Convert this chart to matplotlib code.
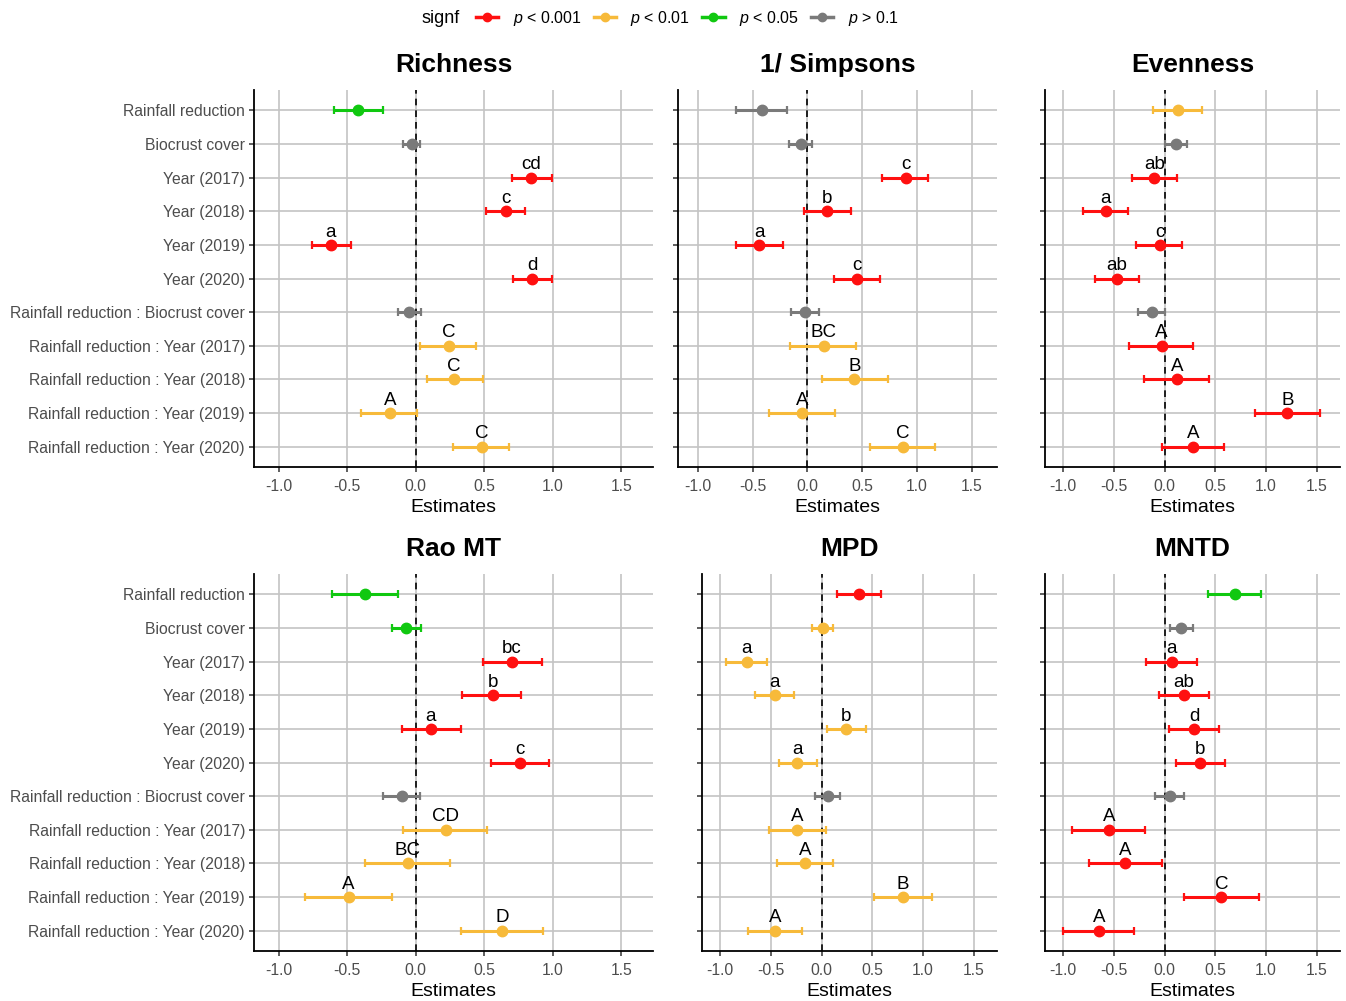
import numpy as np
import matplotlib
matplotlib.use("Agg")
import matplotlib.pyplot as plt
from matplotlib.lines import Line2D

plt.rcParams["font.family"] = ["Liberation Sans", "DejaVu Sans"]
plt.rcParams["mathtext.fontset"] = "custom"
plt.rcParams["mathtext.rm"] = "Liberation Sans"
plt.rcParams["mathtext.it"] = "Liberation Sans:italic"
plt.rcParams["axes.unicode_minus"] = False

#+++ Data
terms = ["Rainfall reduction", "Biocrust cover", "Year (2017)", "Year (2018)", "Year (2019)", "Year (2020)",
         "Rainfall reduction : Biocrust cover", "Rainfall reduction : Year (2017)",
         "Rainfall reduction : Year (2018)", "Rainfall reduction : Year (2019)",
         "Rainfall reduction : Year (2020)"]

panel_titles = ["Richness", "1/ Simpsons", "Evenness", "Rao MT", "MPD", "MNTD"]

richness_est = [-0.42, -0.03, 0.84, 0.66, -0.62, 0.85, -0.05, 0.24, 0.28, -0.19, 0.48]
richness_lo = [-0.60, -0.09, 0.70, 0.51, -0.76, 0.71, -0.13, 0.03, 0.08, -0.40, 0.27]
richness_hi = [-0.24, 0.03, 0.99, 0.80, -0.47, 0.99, 0.04, 0.44, 0.49, 0.01, 0.68]
richness_sig = ["p05", "ns", "p001", "p001", "p001", "p001", "ns", "p01", "p01", "p01", "p01"]
richness_lab = ["", "", "cd", "c", "a", "d", "", "C", "C", "A", "C"]

simpson_est = [-0.41, -0.06, 0.90, 0.18, -0.44, 0.45, -0.02, 0.15, 0.43, -0.05, 0.87]
simpson_lo = [-0.65, -0.17, 0.68, -0.03, -0.65, 0.24, -0.15, -0.16, 0.13, -0.35, 0.57]
simpson_hi = [-0.19, 0.045, 1.10, 0.40, -0.22, 0.66, 0.11, 0.44, 0.74, 0.25, 1.16]
simpson_sig = ["ns", "ns", "p001", "p001", "p001", "p001", "ns", "p01", "p01", "p01", "p01"]
simpson_lab = ["", "", "c", "b", "a", "c", "", "BC", "B", "A", "C"]

evenness_est = [0.13, 0.11, -0.10, -0.58, -0.05, -0.47, -0.12, -0.03, 0.12, 1.21, 0.28]
evenness_lo = [-0.11, 0.0, -0.32, -0.81, -0.28, -0.69, -0.26, -0.35, -0.20, 0.89, -0.03]
evenness_hi = [0.37, 0.22, 0.12, -0.36, 0.17, -0.25, 0.0, 0.28, 0.44, 1.53, 0.59]
evenness_sig = ["p01", "ns", "p001", "p001", "p001", "p001", "ns", "p001", "p001", "p001", "p001"]
evenness_lab = ["", "", "ab", "a", "c", "ab", "", "A", "A", "B", "A"]

rao_est = [-0.37, -0.07, 0.70, 0.56, 0.11, 0.76, -0.10, 0.22, -0.06, -0.49, 0.63]
rao_lo = [-0.61, -0.17, 0.49, 0.34, -0.10, 0.55, -0.24, -0.09, -0.37, -0.81, 0.33]
rao_hi = [-0.13, 0.04, 0.92, 0.77, 0.33, 0.97, 0.03, 0.52, 0.25, -0.17, 0.93]
rao_sig = ["p05", "p05", "p001", "p001", "p001", "p001", "ns", "p01", "p01", "p01", "p01"]
rao_lab = ["", "", "bc", "b", "a", "c", "", "CD", "BC", "A", "D"]

mpd_est = [0.37, 0.01, -0.74, -0.46, 0.24, -0.24, 0.06, -0.24, -0.16, 0.80, -0.46]
mpd_lo = [0.15, -0.09, -0.94, -0.66, 0.05, -0.42, -0.07, -0.52, -0.44, 0.52, -0.73]
mpd_hi = [0.59, 0.11, -0.54, -0.27, 0.44, -0.05, 0.18, 0.04, 0.11, 1.09, -0.19]
mpd_sig = ["p001", "p01", "p01", "p01", "p01", "p01", "ns", "p01", "p01", "p01", "p01"]
mpd_lab = ["", "", "a", "a", "b", "a", "", "A", "A", "B", "A"]

mntd_est = [0.69, 0.16, 0.07, 0.19, 0.29, 0.35, 0.05, -0.55, -0.39, 0.56, -0.65]
mntd_lo = [0.43, 0.05, -0.18, -0.06, 0.04, 0.11, -0.09, -0.91, -0.75, 0.19, -1.00]
mntd_hi = [0.95, 0.28, 0.32, 0.44, 0.54, 0.60, 0.19, -0.19, -0.03, 0.93, -0.30]
mntd_sig = ["p05", "ns", "p001", "p001", "p001", "p001", "ns", "p001", "p001", "p001", "p001"]
mntd_lab = ["", "", "a", "ab", "d", "b", "", "A", "A", "C", "A"]

sig_levels = ["p001", "p01", "p05", "ns"]
sig_labels = [r"$p$ < 0.001", r"$p$ < 0.01", r"$p$ < 0.05", r"$p$ > 0.1"]
sig_colors = {"p001": "#FF1010", "p01": "#F7BA3A", "p05": "#10C810", "ns": "#7A7A7A"}
#---

panels = [
    (richness_est, richness_lo, richness_hi, richness_sig, richness_lab),
    (simpson_est, simpson_lo, simpson_hi, simpson_sig, simpson_lab),
    (evenness_est, evenness_lo, evenness_hi, evenness_sig, evenness_lab),
    (rao_est, rao_lo, rao_hi, rao_sig, rao_lab),
    (mpd_est, mpd_lo, mpd_hi, mpd_sig, mpd_lab),
    (mntd_est, mntd_lo, mntd_hi, mntd_sig, mntd_lab),
]

W, H = 1346, 1001
# axes boxes in pixels: (left, top, right, bottom)
boxes = [(254, 90, 653, 467), (678, 90, 997, 467), (1045, 90, 1340, 467),
         (254, 574, 653, 951), (702, 574, 997, 951), (1045, 574, 1340, 951)]

fig = plt.figure(figsize=(W / 100, H / 100), dpi=100)
grid_col = "#C4C4C4"
tick_col = "#4D4D4D"
n = len(terms)
ypos = np.arange(n)[::-1]

for k, ((est, lo, hi, sig, lab), box) in enumerate(zip(panels, boxes)):
    l, t, r, b = box
    ax = fig.add_axes([l / W, 1 - b / H, (r - l) / W, (b - t) / H])
    est, lo, hi = np.array(est), np.array(lo), np.array(hi)
    for s in sig_levels:
        m = np.array([v == s for v in sig])
        if not m.any():
            continue
        ax.errorbar(est[m], ypos[m], xerr=[est[m] - lo[m], hi[m] - est[m]], fmt="o",
                    color=sig_colors[s], ms=7.5, elinewidth=2.2, capsize=3, capthick=1.6, zorder=4)
    for x, y, txt in zip(est, ypos, lab):
        if txt:
            ax.annotate(txt, (x, y), xytext=(0, 6), textcoords="offset points", ha="center",
                        va="baseline", fontsize=13.5, color="black", zorder=5)
    ax.axvline(0, color="black", lw=1.2, ls=(0, (4, 3)), zorder=3)
    ax.set_xlim(-1.18, 1.73)
    ax.set_ylim(-0.6, n - 0.4)
    xt = [-1.0, -0.5, 0.0, 0.5, 1.0, 1.5]
    ax.set_xticks(xt)
    ax.set_xticklabels([f"{v:.1f}" for v in xt])
    ax.set_yticks(ypos)
    if k % 3 == 0:
        ax.set_yticklabels(terms)
    else:
        ax.set_yticklabels([])
    ax.grid(True, color=grid_col, lw=1.2, zorder=0)
    ax.set_axisbelow(True)
    for sp in ["top", "right"]:
        ax.spines[sp].set_visible(False)
    for sp in ["left", "bottom"]:
        ax.spines[sp].set_linewidth(1.3)
        ax.spines[sp].set_color("black")
    ax.tick_params(axis="both", length=3.5, width=1.1, color="#333333", labelcolor=tick_col,
                   labelsize=11.3)
    ax.tick_params(axis="x", pad=5)
    ax.tick_params(axis="y", pad=3)
    ax.set_xlabel("Estimates", fontsize=14, labelpad=4)
    ax.set_title(panel_titles[k], fontsize=19, fontweight="bold", pad=13)

handles = [Line2D([0], [0], color=sig_colors[s], marker="o", ms=6, lw=2.5) for s in sig_levels]
fig.legend(handles, sig_labels, loc="center left", bbox_to_anchor=(476 / W, 1 - 18 / H), ncol=4,
           frameon=False, fontsize=11.5, handlelength=1.4, handletextpad=0.9, columnspacing=0.75,
           borderaxespad=0, borderpad=0)
fig.text(422 / W, 1 - 18 / H, "signf", fontsize=13, ha="left", va="center")

fig.savefig("out.png", dpi=100)
